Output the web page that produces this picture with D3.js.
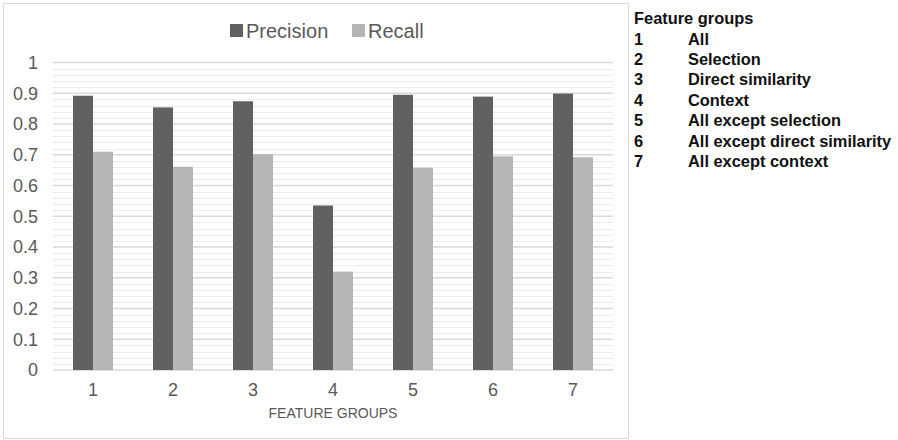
<!DOCTYPE html>
<html><head><meta charset="utf-8">
<script src="https://cdn.jsdelivr.net/npm/d3@7"></script>
<style>
body{margin:0;background:#fff;}
svg{display:block;font-family:"Liberation Sans",Arial,sans-serif;}
</style></head>
<body>
<svg id="c" width="898" height="440"></svg>
<script>
const categories = ["1","2","3","4","5","6","7"];
const precision = [0.892, 0.854, 0.874, 0.535, 0.895, 0.889, 0.899];
const recall = [0.710, 0.661, 0.702, 0.320, 0.658, 0.695, 0.692];
const seriesNames = ["Precision","Recall"];
const yTicks = [0,0.1,0.2,0.3,0.4,0.5,0.6,0.7,0.8,0.9,1];
const groupNums = ["1","2","3","4","5","6","7"];
const groupNames = ["All","Selection","Direct similarity","Context","All except selection","All except direct similarity","All except context"];

const colors = {Precision:"#616161", Recall:"#b5b5b5"};
const svg = d3.select("#c");

// chart border
svg.append("rect").attr("x",3.5).attr("y",3.5).attr("width",625).attr("height",435)
  .attr("fill","#fff").attr("stroke","#d9d9d9").attr("stroke-width",1);

const pLeft=53, pRight=613, pTop=62.5, pBottom=370;
const x = d3.scaleBand().domain(categories).range([pLeft,pRight]);
const y = d3.scaleLinear().domain([0,1]).range([pBottom,pTop]);
const xs = d3.scaleBand().domain(seriesNames).range([0,40]);

// minor grid
const minor = d3.range(0,1.0001,0.02).filter(v=>Math.abs(v*10-Math.round(v*10))>1e-6);
svg.append("g").selectAll("line").data(minor).join("line")
  .attr("x1",pLeft).attr("x2",pRight).attr("y1",d=>Math.round(y(d))+0.5).attr("y2",d=>Math.round(y(d))+0.5)
  .attr("stroke","#ececec").attr("stroke-width",1);
// major grid
svg.append("g").selectAll("line").data(yTicks).join("line")
  .attr("x1",pLeft).attr("x2",pRight).attr("y1",d=>y(d)).attr("y2",d=>y(d))
  .attr("stroke","#d9d9d9").attr("stroke-width",1.5);

// bars
const data = categories.map((c,i)=>({c, vals:[{k:"Precision",v:precision[i]},{k:"Recall",v:recall[i]}]}));
const g = svg.append("g").selectAll("g").data(data).join("g")
  .attr("transform",d=>`translate(${x(d.c)+x.bandwidth()/2-20},0)`);
g.selectAll("rect").data(d=>d.vals).join("rect")
  .attr("x",d=>xs(d.k)).attr("width",xs.bandwidth())
  .attr("y",d=>y(d.v)).attr("height",d=>y(0)-y(d.v))
  .attr("fill",d=>colors[d.k]);

// y axis
const yAxis = d3.axisLeft(y).tickValues(yTicks).tickSize(0).tickPadding(0).tickFormat(d=>d3.format("")(d));
const ya = svg.append("g").attr("transform",`translate(38,0)`).call(yAxis);
ya.select(".domain").remove();
ya.selectAll("text").attr("font-size",18).attr("fill","#595959").attr("font-family","Liberation Sans, Arial, sans-serif");

// x axis
const xAxis = d3.axisBottom(x).tickSize(0).tickPadding(0);
const xa = svg.append("g").attr("transform",`translate(0,${pBottom+13})`).call(xAxis);
xa.select(".domain").remove();
xa.selectAll("text").attr("font-size",18).attr("fill","#595959").attr("font-family","Liberation Sans, Arial, sans-serif");

svg.append("text").attr("x",(pLeft+pRight)/2).attr("y",418).attr("text-anchor","middle")
  .attr("font-size",14).attr("fill","#595959").text("FEATURE GROUPS");

// legend
const lg = svg.append("g");
const legX = [230, 352];
seriesNames.forEach((s,i)=>{
  lg.append("rect").attr("x",legX[i]).attr("y",24).attr("width",13).attr("height",13).attr("fill",colors[s]);
  lg.append("text").attr("x",legX[i]+16).attr("y",37.5).attr("font-size",20).attr("fill","#595959").text(s);
});

// side table
const side = svg.append("g").attr("font-weight","bold").attr("font-size",16.4).attr("fill","#111");
side.append("text").attr("x",634).attr("y",24).text("Feature groups");
groupNums.forEach((n,i)=>{
  side.append("text").attr("x",634).attr("y",44.5+i*20.4).text(n);
  side.append("text").attr("x",688).attr("y",44.5+i*20.4).text(groupNames[i]);
});
</script>
</body></html>
